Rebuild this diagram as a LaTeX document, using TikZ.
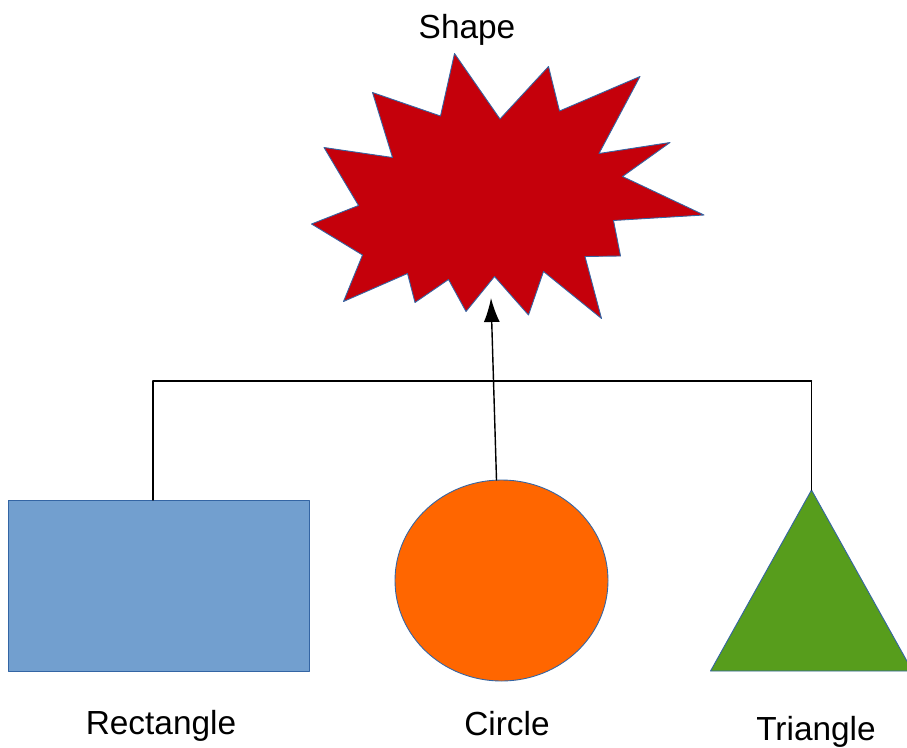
\documentclass[tikz,border=0pt]{standalone}
\usepackage{fontspec}
\setmainfont{Liberation Sans}
\usetikzlibrary{arrows.meta,calc}
\usepackage{tkz-euclide}
\definecolor{BurstClr}{HTML}{C5000B}
\definecolor{RectClr}{HTML}{729FCF}
\definecolor{CircClr}{HTML}{FF6600}
\definecolor{TriClr}{HTML}{579D1C}
\definecolor{EdgeClr}{HTML}{3465A4}

\begin{document}
\begin{tikzpicture}
\useasboundingbox (0,0) rectangle (18.14,14.94);
\tkzSetUpLine[line width=0.5pt,color=EdgeClr]

% the burst
\tkzDefPoints{9.09/13.87/S1,10.00/12.56/S2,10.97/13.61/S3,11.19/12.72/S4,12.80/13.41/S5,11.98/11.87/S6,13.40/12.09/S7}
\tkzDefPoints{12.45/11.41/S8,14.08/10.64/S9,12.27/10.53/S10,12.41/9.82/S11,11.70/9.81/S12,12.03/8.57/S13,10.87/9.51/S14}
\tkzDefPoints{10.57/8.64/S15,9.89/9.41/S16,9.32/8.71/S17,8.97/9.35/S18,8.30/8.89/S19,8.15/9.47/S20,6.87/8.91/S21}
\tkzDefPoints{7.25/9.84/S22,6.23/10.46/S23,7.17/10.83/S24,6.48/11.99/S25,7.85/11.79/S26,7.45/13.09/S27,8.81/12.62/S28}

% rectangle, circle, triangle
\tkzDefPoints{0.16/4.94/R1,6.18/4.94/R2,6.18/1.52/R3,0.16/1.52/R4,3.06/4.94/RT}
\tkzDefPoints{10.03/3.33/C,9.93/5.34/CT,9.82/8.98/AT}
\tkzDefPoints{16.23/5.14/T1,14.21/1.52/T2,18.25/1.52/T3}
\tkzDefPoints{3.06/7.32/K1,16.23/7.32/K2}

\tkzFillPolygon[fill=BurstClr](S1,S2,S3,S4,S5,S6,S7,S8,S9,S10,S11,S12,S13,S14,S15,S16,S17,S18,S19,S20,S21,S22,S23,S24,S25,S26,S27,S28)
\tkzDrawPolygon(S1,S2,S3,S4,S5,S6,S7,S8,S9,S10,S11,S12,S13,S14,S15,S16,S17,S18,S19,S20,S21,S22,S23,S24,S25,S26,S27,S28)

\tkzFillPolygon[fill=RectClr](R1,R2,R3,R4)
\tkzDrawPolygon(R1,R2,R3,R4)
\filldraw[fill=CircClr,draw=EdgeClr,line width=0.5pt] (C) ellipse (2.13 and 2.01);
\tkzFillPolygon[fill=TriClr](T1,T2,T3)
\tkzDrawPolygon(T1,T2,T3)

\tkzDrawSegments[line width=0.8pt,color=black](RT,K1 K1,K2 K2,T1)
\tkzDrawSegment[line width=0.8pt,color=black,-{Latex[length=4.8mm,width=3.2mm]}](CT,AT)

\node[font=\fontsize{19}{22}\selectfont] (shapelbl) at (9.34,14.34) {Shape};
\node[font=\fontsize{19}{22}\selectfont] (rectlbl) at (3.22,0.42) {Rectangle};
\node[font=\fontsize{19}{22}\selectfont] (circlbl) at (10.14,0.46) {Circle};
\node[font=\fontsize{19}{22}\selectfont] (trilbl) at (16.32,0.30) {Triangle};

\end{tikzpicture}
\end{document}
